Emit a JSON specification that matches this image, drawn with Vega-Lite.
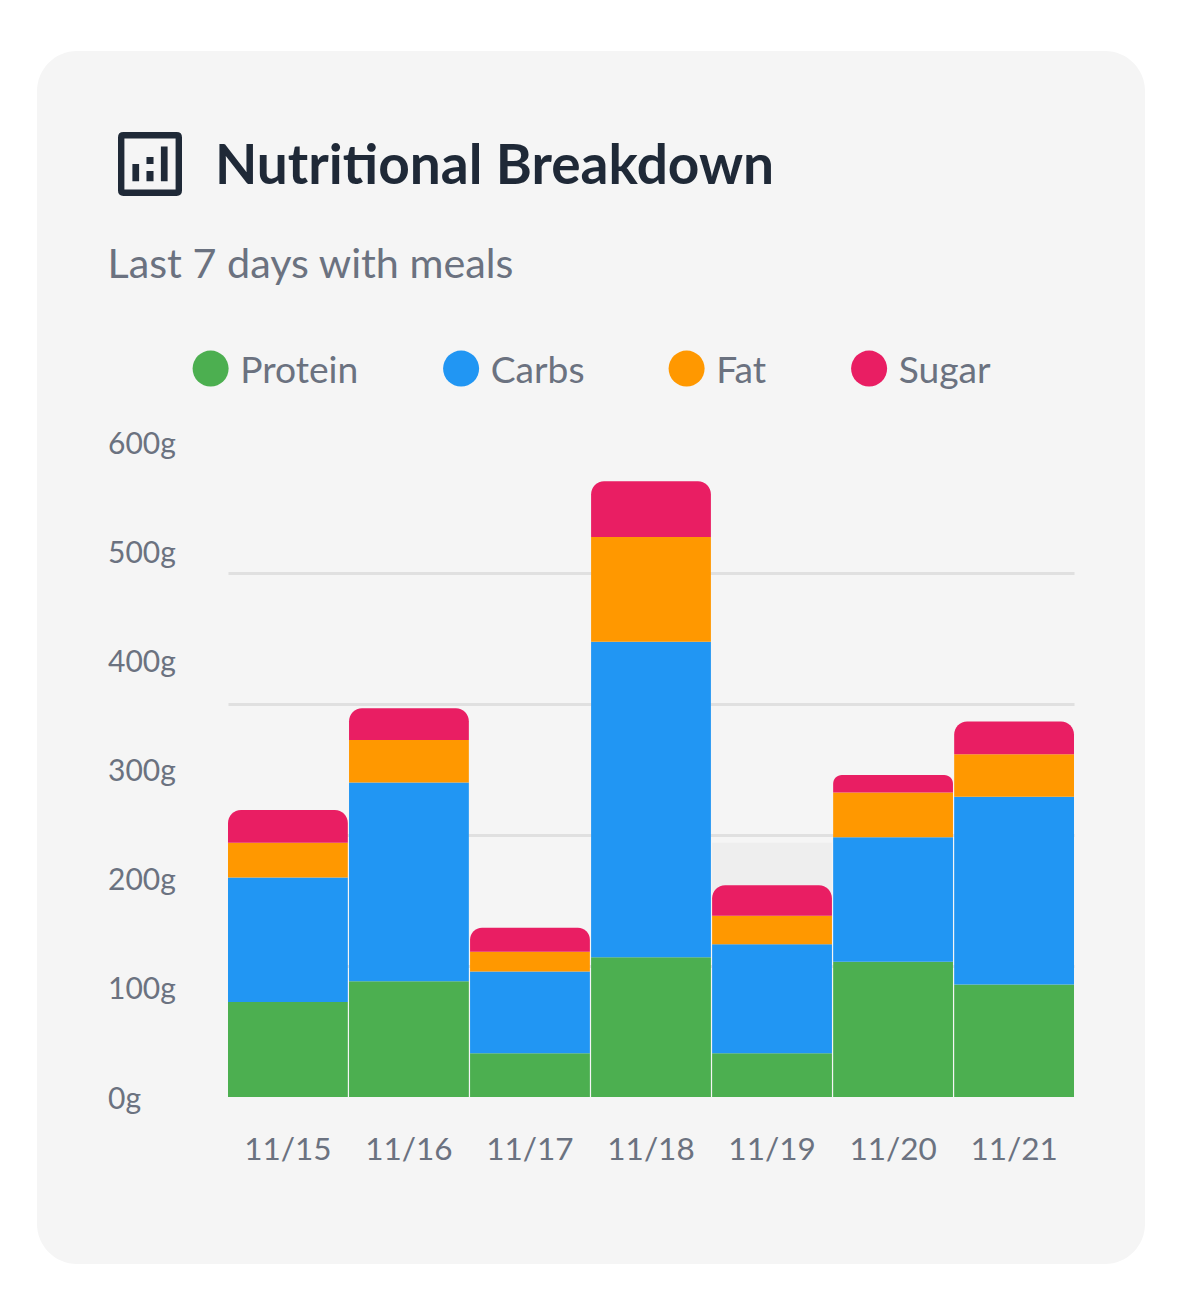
{
  "$schema": "https://vega.github.io/schema/vega-lite/v6.json",
  "width": 1108,
  "height": 1213,
  "autosize": "none",
  "padding": {"left": 37, "top": 51, "right": 49, "bottom": 41},
  "background": "#ffffff",
  "view": {"fill": "#f5f5f5", "stroke": null, "cornerRadius": 40},
  "config": {"font": "Lato"},
  "title": {
    "text": "Nutritional Breakdown",
    "anchor": "start",
    "frame": "group",
    "font": "Lato",
    "fontSize": 55,
    "fontWeight": 700,
    "color": "#1f2937",
    "dx": 178,
    "dy": 145,
    "offset": 0
  },
  "data": {
    "values": [
      {"date": "11/15", "nutrient": "Protein", "order": 1, "grams": 87},
      {"date": "11/15", "nutrient": "Carbs", "order": 2, "grams": 114},
      {"date": "11/15", "nutrient": "Fat", "order": 3, "grams": 32},
      {"date": "11/15", "nutrient": "Sugar", "order": 4, "grams": 30},
      {"date": "11/16", "nutrient": "Protein", "order": 1, "grams": 106},
      {"date": "11/16", "nutrient": "Carbs", "order": 2, "grams": 182},
      {"date": "11/16", "nutrient": "Fat", "order": 3, "grams": 39},
      {"date": "11/16", "nutrient": "Sugar", "order": 4, "grams": 29},
      {"date": "11/17", "nutrient": "Protein", "order": 1, "grams": 40},
      {"date": "11/17", "nutrient": "Carbs", "order": 2, "grams": 75},
      {"date": "11/17", "nutrient": "Fat", "order": 3, "grams": 18},
      {"date": "11/17", "nutrient": "Sugar", "order": 4, "grams": 22},
      {"date": "11/18", "nutrient": "Protein", "order": 1, "grams": 128},
      {"date": "11/18", "nutrient": "Carbs", "order": 2, "grams": 289},
      {"date": "11/18", "nutrient": "Fat", "order": 3, "grams": 96},
      {"date": "11/18", "nutrient": "Sugar", "order": 4, "grams": 51},
      {"date": "11/19", "nutrient": "Protein", "order": 1, "grams": 40},
      {"date": "11/19", "nutrient": "Carbs", "order": 2, "grams": 100},
      {"date": "11/19", "nutrient": "Fat", "order": 3, "grams": 26},
      {"date": "11/19", "nutrient": "Sugar", "order": 4, "grams": 28},
      {"date": "11/20", "nutrient": "Protein", "order": 1, "grams": 124},
      {"date": "11/20", "nutrient": "Carbs", "order": 2, "grams": 114},
      {"date": "11/20", "nutrient": "Fat", "order": 3, "grams": 41},
      {"date": "11/20", "nutrient": "Sugar", "order": 4, "grams": 16},
      {"date": "11/21", "nutrient": "Protein", "order": 1, "grams": 103},
      {"date": "11/21", "nutrient": "Carbs", "order": 2, "grams": 172},
      {"date": "11/21", "nutrient": "Fat", "order": 3, "grams": 39},
      {"date": "11/21", "nutrient": "Sugar", "order": 4, "grams": 30}
    ]
  },
  "transform": [
    {"stack": "grams", "groupby": ["date"], "sort": [{"field": "order", "order": "ascending"}], "as": ["y0", "y1"]}
  ],
  "resolve": {"axis": {"y": "independent"}},
  "layer": [
    {
      "data": {"values": [{"date": "11/19", "from": 0, "to": 233}]},
      "transform": [],
      "mark": {"type": "bar", "color": "#eeeeee"},
      "encoding": {
        "x": {
          "field": "date", "type": "ordinal", "title": null,
          "scale": {"type": "band", "range": [191, 1037], "paddingInner": 0.01, "paddingOuter": 0,
            "domain": ["11/15", "11/16", "11/17", "11/18", "11/19", "11/20", "11/21"]},
          "axis": {"orient": "bottom", "offset": -167, "domain": false, "ticks": false, "labelAngle": 0,
            "labelFont": "Lato", "labelFontSize": 31.5, "labelColor": "#6b7280", "labelPadding": 37, "grid": false}
        },
        "y": {
          "field": "to", "type": "quantitative", "title": null,
          "scale": {"domain": [0, 600], "range": [1046, 391], "nice": false},
          "axis": {"orient": "left", "values": [120, 240, 360, 480], "labels": false, "ticks": false, "domain": false,
            "grid": true, "gridColor": "#e0e0e0", "gridWidth": 3, "title": null}
        },
        "y2": {"field": "from"}
      }
    },
    {
      "transform": [{"filter": "datum.nutrient !== 'Sugar'"}],
      "mark": {"type": "bar"},
      "encoding": {
        "x": {"field": "date", "type": "ordinal"},
        "y": {
          "field": "y1", "type": "quantitative", "title": null,
          "axis": {"orient": "left", "values": [0, 100, 200, 300, 400, 500, 600], "labelExpr": "datum.value + 'g'", "grid": false,
            "domain": false, "ticks": false, "offset": -70.5, "labelAlign": "left", "labelPadding": 0, "labelFlush": false, "labelOffset": 2,
            "labelFont": "Lato", "labelFontSize": 30, "labelColor": "#6b7280", "title": null}
        },
        "y2": {"field": "y0"},
        "color": {
          "field": "nutrient", "type": "nominal",
          "scale": {"domain": ["Protein", "Carbs", "Fat", "Sugar"], "range": ["#4caf50", "#2196f3", "#ff9800", "#e91e63"]},
          "legend": {
            "title": null, "orient": "none", "legendX": 155, "legendY": 299, "direction": "horizontal", "columns": 4,
            "symbolType": "circle", "symbolSize": 1296, "symbolStrokeWidth": 0, "gridAlign": "none", "columnPadding": 83.5,
            "labelFont": "Lato", "labelFontSize": 37.2, "labelColor": "#6b7280", "labelOffset": 11, "symbolOpacity": 1,
            "encoding": {"labels": {"dy": {"value": 3}}}
          }
        }
      }
    },
    {
      "transform": [{"filter": "datum.nutrient === 'Sugar'"}],
      "mark": {"type": "bar", "cornerRadiusTopLeft": 13, "cornerRadiusTopRight": 13},
      "encoding": {
        "x": {"field": "date", "type": "ordinal"},
        "y": {"field": "y1", "type": "quantitative", "title": null, "axis": null},
        "y2": {"field": "y0"},
        "color": {"field": "nutrient", "type": "nominal"}
      }
    },
    {
      "data": {"values": [{"label": "Last 7 days with meals"}]},
      "transform": [],
      "mark": {"type": "text", "x": 70.5, "y": 214.5, "align": "left", "baseline": "middle", "font": "Lato", "fontSize": 41.3, "color": "#6b7280"},
      "encoding": {"text": {"field": "label"}}
    },
    {
      "data": {"values": [{"icon": "chart"}]},
      "transform": [],
      "mark": {
        "type": "point", "x": 113, "y": 113, "size": 4096, "filled": true, "opacity": 1, "color": "#1f2937", "strokeWidth": 0,
        "shape": "M-0.83 -1H0.83Q1 -1 1 -0.83V0.83Q1 1 0.83 1H-0.83Q-1 1 -1 0.83V-0.83Q-1 -1 -0.83 -1ZM-0.8 -0.8V0.8H0.8V-0.8ZM-0.55 0H-0.34V0.54H-0.55ZM-0.11 0.22H0.11V0.54H-0.11ZM-0.11 -0.22H0.11V0H-0.11ZM0.34 -0.55H0.55V0.54H0.34Z"
      },
      "encoding": {}
    }
  ]
}
